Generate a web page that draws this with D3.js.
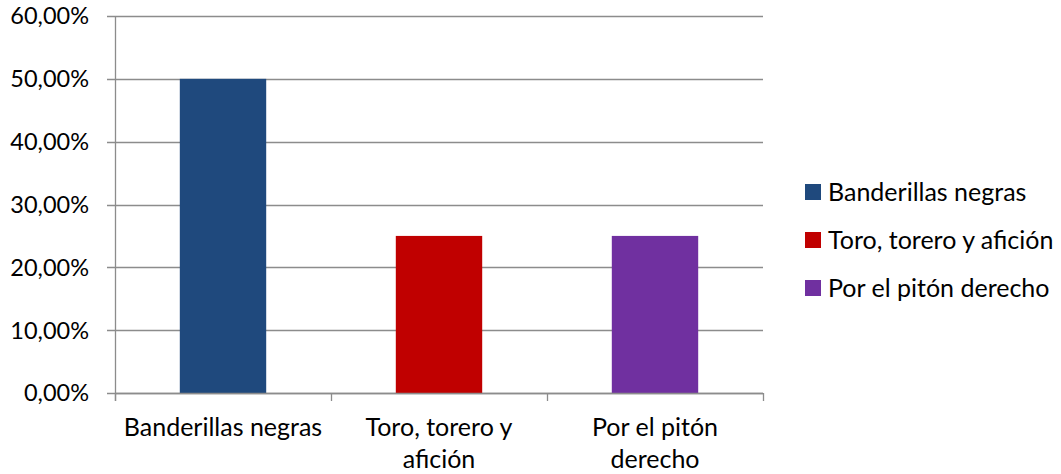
<!DOCTYPE html>
<html><head><meta charset="utf-8">
<script src="https://cdn.jsdelivr.net/npm/d3@7"></script>
<style>body{margin:0;background:#fff;} text{font-family:Lato,"Open Sans",sans-serif;fill:#000;}</style>
</head><body>
<svg id="c" width="1061" height="474"></svg>
<script>
const categories = ["Banderillas negras", "Toro, torero y afición", "Por el pitón derecho"];
const categoryLines = [["Banderillas negras"], ["Toro, torero y", "afición"], ["Por el pitón", "derecho"]];
const values = [0.50, 0.25, 0.25];
const colors = ["#1F497D", "#C00000", "#7030A0"];
const yTicks = [0, 0.1, 0.2, 0.3, 0.4, 0.5, 0.6];

const svg = d3.select("#c");
const L = 115, R = 763, T = 16, B = 393;
const x = d3.scaleBand().domain(categories).range([L, R]).paddingInner(0.6).paddingOuter(0.3);
const y = d3.scaleLinear().domain([0, 0.6]).range([B, T]);
const fmt = v => d3.format(".2f")(v * 100).replace(".", ",") + "%";
const grid = "#8c8c8c";

// gridlines
svg.append("g").selectAll("line").data(yTicks).join("line")
  .attr("x1", L - 8).attr("x2", R).attr("y1", d => Math.round(y(d)) + 0.5).attr("y2", d => Math.round(y(d)) + 0.5)
  .attr("stroke", grid).attr("stroke-width", 1.3);

// y tick labels
svg.append("g").selectAll("text").data(yTicks).join("text")
  .attr("x", 89).attr("y", d => y(d)).attr("dy", "0.36em").attr("text-anchor", "end")
  .style("font-size", "23.5px").text(fmt);

// bars
svg.append("g").selectAll("rect").data(categories).join("rect")
  .attr("x", d => x(d)).attr("width", x.bandwidth())
  .attr("y", (d, i) => y(values[i])).attr("height", (d, i) => y(0) - y(values[i]))
  .attr("fill", (d, i) => colors[i]);

// axes lines
svg.append("line").attr("x1", L + 0.5).attr("x2", L + 0.5).attr("y1", T).attr("y2", B + 8)
  .attr("stroke", grid).attr("stroke-width", 1.3);
svg.append("line").attr("x1", L).attr("x2", R).attr("y1", Math.round(y(0)) + 0.5).attr("y2", Math.round(y(0)) + 0.5)
  .attr("stroke", grid).attr("stroke-width", 1.3);
const step = x.step();
svg.append("g").selectAll("line").data(d3.range(4)).join("line")
  .attr("x1", i => L + i * step + 0.5).attr("x2", i => L + i * step + 0.5)
  .attr("y1", B).attr("y2", B + 8).attr("stroke", grid).attr("stroke-width", 1.3);

// category labels
const cl = svg.append("g").selectAll("text").data(categories).join("text")
  .attr("text-anchor", "middle").style("font-size", "25px")
  .attr("x", d => x(d) + x.bandwidth() / 2);
cl.each(function(d, i) {
  d3.select(this).selectAll("tspan").data(categoryLines[i]).join("tspan")
    .attr("x", x(d) + x.bandwidth() / 2).attr("y", (t, j) => 436 + j * 32).text(t => t);
});

// legend
const lg = svg.append("g").selectAll("g").data(categories).join("g")
  .attr("transform", (d, i) => `translate(805,${192 + i * 48})`);
lg.append("rect").attr("x", 0).attr("y", -8).attr("width", 16).attr("height", 16).attr("fill", (d, i) => colors[i]);
lg.append("text").attr("x", 23).attr("dy", "0.36em").style("font-size", "25px").text(d => d);
</script>
</body></html>
